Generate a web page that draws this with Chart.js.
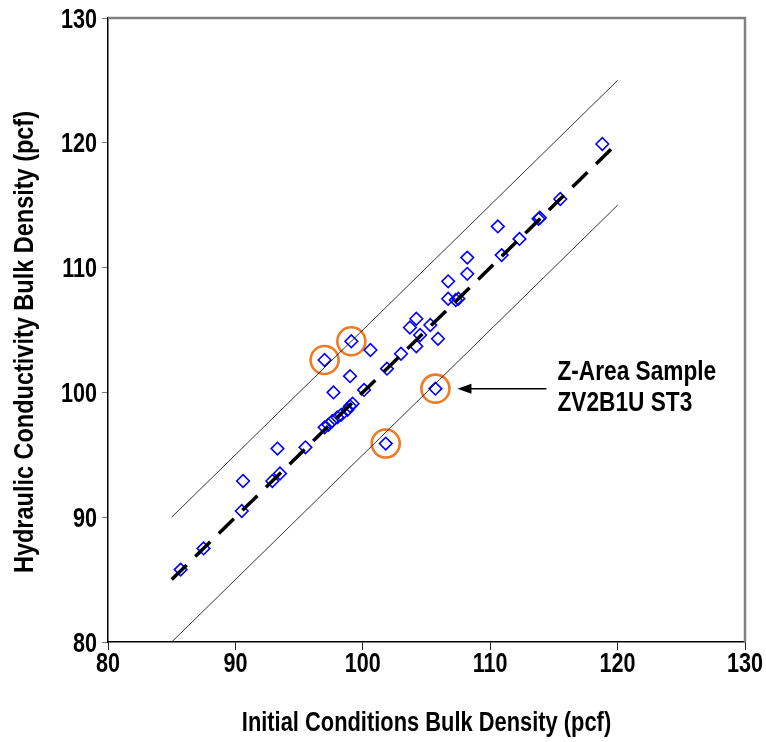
<!DOCTYPE html>
<html>
<head>
<meta charset="utf-8">
<script src="https://cdn.jsdelivr.net/npm/chart.js@4.4.1/dist/chart.umd.min.js"></script>
<style>
  html, body { margin: 0; padding: 0; background: #fff; }
  #wrap { width: 766px; height: 742px; }
</style>
</head>
<body>
<div id="wrap"><canvas id="densityChart" width="766" height="742"></canvas></div>
<script>
// bulk density pairs (pcf)
const initialDensity = [85.7, 87.5, 90.5, 90.6, 92.9, 93.5, 93.3, 95.5, 97.0, 97.3, 97.6, 98.0, 98.3, 98.8, 99.0, 99.2,
  97.7, 99.0, 100.1, 101.9, 103.0, 104.2, 105.9, 104.5, 103.7, 104.2, 105.3, 100.6, 99.1, 97.0, 105.7, 101.8,
  106.7, 107.3, 107.5, 106.7, 108.2, 108.2, 110.9, 112.3, 110.6, 113.8, 113.9, 115.5, 118.8];
const hydraulicDensity = [85.8, 87.5, 90.5, 92.9, 92.9, 93.5, 95.5, 95.6, 97.2, 97.4, 97.7, 98.0, 98.2, 98.6, 98.9, 99.1,
  100.0, 101.3, 100.2, 101.9, 103.1, 103.7, 104.3, 104.6, 105.2, 105.9, 105.4, 103.4, 104.1, 102.6, 100.3, 95.9,
  107.5, 107.4, 107.5, 108.9, 109.5, 110.8, 111.0, 112.3, 113.3, 113.9, 114.0, 115.5, 119.9];

// samples that get an orange ring
const circledIdx = [28, 29, 30, 31];

// 1:1 line and +/- 5 pcf band
const lineX = [85, 120];
const unityY = [85, 120];
const upperY = [90, 125];
const lowerY = [80, 115];

const axisTicks = [80, 90, 100, 110, 120, 130];

const xTitle = "Initial Conditions Bulk Density (pcf)";
const yTitle = "Hydraulic Conductivity Bulk Density (pcf)";
const noteLines = ["Z-Area Sample", "ZV2B1U ST3"];
const noteSample = 30; // index the arrow points at

const FONT = "bold 27px 'Liberation Sans', Arial, sans-serif";

const points = initialDensity.map((x, i) => ({ x: x, y: hydraulicDensity[i] }));
const rings = circledIdx.map(i => ({ x: initialDensity[i], y: hydraulicDensity[i] }));
const pairs = ys => lineX.map((x, i) => ({ x: x, y: ys[i] }));

// text squeezed horizontally (narrow bold look)
function narrowText(ctx, text, x, y, align, sx, rot) {
  ctx.save();
  ctx.translate(x, y);
  if (rot) ctx.rotate(rot);
  ctx.scale(sx, 1);
  ctx.textAlign = align;
  ctx.textBaseline = "alphabetic";
  ctx.fillText(text, 0, 0);
  ctx.restore();
}

// gray top/right frame
const framePlugin = {
  id: "frame",
  afterDraw(chart) {
    const { ctx, chartArea: a } = chart;
    ctx.save();
    ctx.strokeStyle = "#808080";
    ctx.lineWidth = 2.5;
    ctx.beginPath();
    ctx.moveTo(a.left, a.top);
    ctx.lineTo(a.right, a.top);
    ctx.lineTo(a.right, a.bottom);
    ctx.stroke();
    ctx.restore();
  }
};

// tick labels and axis titles
const labelPlugin = {
  id: "labels",
  afterDraw(chart) {
    const { ctx, chartArea: a, scales: { x, y } } = chart;
    ctx.save();
    ctx.fillStyle = "#000";
    ctx.font = FONT;
    axisTicks.forEach(v => {
      narrowText(ctx, String(v), a.left - 11, y.getPixelForValue(v) + 9.5, "right", 0.8);
      narrowText(ctx, String(v), x.getPixelForValue(v), a.bottom + 30, "center", 0.8);
    });
    narrowText(ctx, xTitle, (a.left + a.right) / 2, a.bottom + 89, "center", 0.81);
    narrowText(ctx, yTitle, 33, (a.top + a.bottom) / 2 + 12, "center", 0.87, -Math.PI / 2);
    ctx.restore();
  }
};

// label + arrow for the Z-Area sample
const notePlugin = {
  id: "note",
  afterDatasetsDraw(chart) {
    const { ctx, scales: { x, y } } = chart;
    const px = x.getPixelForValue(initialDensity[noteSample]);
    const py = y.getPixelForValue(hydraulicDensity[noteSample]);
    const tip = px + 22;
    const tail = px + 111;
    ctx.save();
    ctx.strokeStyle = "#000";
    ctx.fillStyle = "#000";
    ctx.lineWidth = 1.5;
    ctx.beginPath();
    ctx.moveTo(tail, py);
    ctx.lineTo(tip + 12, py);
    ctx.stroke();
    ctx.beginPath();
    ctx.moveTo(tip, py);
    ctx.lineTo(tip + 14, py - 5);
    ctx.lineTo(tip + 14, py + 5);
    ctx.closePath();
    ctx.fill();

    ctx.font = FONT;
    narrowText(ctx, noteLines[0], px + 122, py - 9, "left", 0.84);
    narrowText(ctx, noteLines[1], px + 122, py + 22, "left", 0.84);
    ctx.restore();
  }
};

new Chart(document.getElementById("densityChart"), {
  type: "scatter",
  data: {
    datasets: [
      {
        data: pairs(upperY),
        type: "line",
        borderColor: "#000",
        borderWidth: 0.8,
        pointRadius: 0,
        fill: false
      },
      {
        data: pairs(lowerY),
        type: "line",
        borderColor: "#000",
        borderWidth: 0.8,
        pointRadius: 0,
        fill: false
      },
      {
        data: pairs(unityY),
        type: "line",
        borderColor: "#000",
        borderWidth: 3.5,
        borderDash: [21, 12],
        pointRadius: 0,
        fill: false
      },
      {
        data: points,
        pointStyle: "rectRot",
        pointRadius: 6.3,
        borderColor: "#0000ff",
        borderWidth: 1.6,
        backgroundColor: "rgba(0,0,0,0)"
      },
      {
        data: rings,
        pointStyle: "circle",
        pointRadius: 14,
        borderColor: "#f07a26",
        borderWidth: 2.6,
        backgroundColor: "rgba(0,0,0,0)"
      }
    ]
  },
  options: {
    responsive: false,
    animation: false,
    layout: { padding: { top: 18, right: 21, left: 0, bottom: 0 } },
    plugins: {
      legend: { display: false },
      tooltip: { enabled: false }
    },
    scales: {
      x: {
        type: "linear",
        min: 80,
        max: 130,
        afterBuildTicks: s => { s.ticks = axisTicks.map(v => ({ value: v })); },
        afterFit: s => { s.height = 100; s.paddingLeft = 0; s.paddingRight = 0; },
        border: { color: "#000", width: 1.5 },
        grid: { drawOnChartArea: false, tickLength: 8, color: "#222", tickWidth: 1 },
        ticks: { display: false },
        title: { display: false }
      },
      y: {
        type: "linear",
        min: 80,
        max: 130,
        afterBuildTicks: s => { s.ticks = axisTicks.map(v => ({ value: v })); },
        afterFit: s => { s.width = 108; s.paddingTop = 0; s.paddingBottom = 0; },
        border: { color: "#000", width: 1.5 },
        grid: { drawOnChartArea: false, tickLength: 6, color: "#777", tickWidth: 1 },
        ticks: { display: false },
        title: { display: false }
      }
    }
  },
  plugins: [framePlugin, labelPlugin, notePlugin]
});
</script>
</body>
</html>
